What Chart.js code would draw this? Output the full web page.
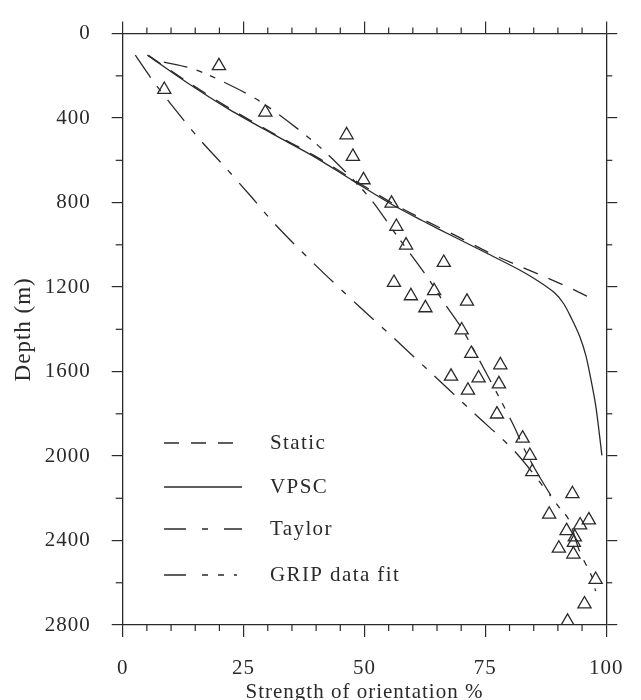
<!DOCTYPE html>
<html><head><meta charset="utf-8">
<script src="https://cdn.jsdelivr.net/npm/chart.js@4/dist/chart.umd.min.js"></script>
<style>html,body{margin:0;padding:0;background:#fff}#wrap{width:641px;height:700px}</style>
</head><body><div id="wrap"><canvas id="c" width="641" height="700"></canvas></div>
<script>
// ---- data ----
const xTicks = [0, 25, 50, 75, 100];
const yTicks = [0, 400, 800, 1200, 1600, 2000, 2400, 2800];
const xMinorStep = 5;
const yMinorStep = 200;
const seriesNames = ['Static', 'VPSC', 'Taylor', 'GRIP data fit'];
const xTitle = 'Strength of orientation %';
const yTitle = 'Depth (m)';

const staticX = [5.3, 13.8, 22.4, 31.2, 39.8, 47.9, 56.0, 62.5, 69.2, 76.0, 82.0, 87.5, 92.5, 97.1];
const staticY = [103, 234, 358, 473, 580, 694, 806, 884, 960, 1040, 1100, 1154, 1204, 1256];

const vpscX = [5.1, 13.5, 22.1, 31.0, 39.4, 47.5, 55.6, 62.0, 68.5, 75.3, 81.9, 85.9, 89.2, 91.2, 92.8, 94.5, 95.8, 96.8, 97.8, 98.5, 99.1];
const vpscY = [102, 235, 360, 475, 580, 695, 808, 886, 962, 1040, 1117, 1171, 1225, 1279, 1348, 1433, 1526, 1634, 1758, 1881, 1997];

const taylorX = [2.6, 6.0, 9.8, 15.5, 21.4, 26.5, 31.4, 39.4, 48.3, 56.0, 63.6, 72.6, 81.2, 88.5];
const taylorY = [102, 215, 329, 490, 638, 770, 900, 1086, 1279, 1440, 1603, 1796, 1981, 2190];

const gripX = [8.5, 14.1, 19.4, 28.4, 39.4, 46.0, 51.3, 56.5, 62.6, 66.6, 70.1, 74.9, 77.6, 80.9, 83.2, 86.5, 89.8, 92.2, 94.5, 97.1, 97.8];
const gripY = [135, 164, 213, 321, 510, 653, 784, 950, 1140, 1279, 1395, 1595, 1711, 1858, 1974, 2110, 2229, 2299, 2452, 2575, 2640];

const obsX = [19.9, 8.6, 29.5, 46.3, 47.6, 49.8, 55.6, 56.6, 58.6, 66.4, 56.1, 59.6, 64.4, 62.6, 71.2, 70.1, 72.1, 78.1, 67.9, 73.6, 77.8, 71.4, 77.4, 82.7, 84.2, 84.7, 93.0, 88.2, 96.4, 94.6, 91.8, 93.5, 93.3, 90.2, 93.2, 97.8, 95.5, 92.0];
const obsY = [153, 265, 373, 480, 582, 693, 804, 914, 1002, 1084, 1179, 1242, 1218, 1299, 1268, 1404, 1515, 1569, 1623, 1631, 1659, 1689, 1802, 1916, 1998, 2075, 2179, 2276, 2303, 2327, 2354, 2384, 2410, 2437, 2465, 2585, 2701, 2783];

// ---- styling ----
const INK = '#2a2a2a';
const pts = (xs, ys) => xs.map((x, i) => ({x: x, y: ys[i]}));
const lineDs = (label, xs, ys, dash) => ({
  label: label, data: pts(xs, ys), showLine: true, pointRadius: 0, pointHoverRadius: 0,
  borderColor: INK, borderWidth: 1.3, borderDash: dash, tension: 0.3, fill: false
});

Chart.defaults.font.family = '"Liberation Serif", "Times New Roman", serif';
Chart.defaults.font.size = 21;
Chart.defaults.color = INK;

const setTicks = (vals) => (s) => { s.ticks = vals.map(v => ({value: v})); };
const plainLabel = (v) => String(v);

const minorTicks = {
  id: 'minorTicks',
  afterDraw(chart) {
    const ctx = chart.ctx;
    const specs = [
      {id: 'x', step: xMinorStep, major: 25, len: 6},
      {id: 'x2', step: xMinorStep, major: 25, len: 6},
      {id: 'y', step: yMinorStep, major: 400, len: 7},
      {id: 'y2', step: yMinorStep, major: 400, len: 6}
    ];
    ctx.save();
    ctx.strokeStyle = INK; ctx.lineWidth = 1.2;
    specs.forEach(sp => {
      const s = chart.scales[sp.id];
      for (let v = s.min; v <= s.max + 1e-9; v += sp.step) {
        if (Math.abs(v / sp.major - Math.round(v / sp.major)) < 1e-9) continue;
        const p = s.getPixelForValue(v);
        ctx.beginPath();
        if (s.position === 'bottom') { ctx.moveTo(p, s.top); ctx.lineTo(p, s.top + sp.len); }
        else if (s.position === 'top') { ctx.moveTo(p, s.bottom); ctx.lineTo(p, s.bottom - sp.len); }
        else if (s.position === 'left') { ctx.moveTo(s.right, p); ctx.lineTo(s.right - sp.len, p); }
        else { ctx.moveTo(s.left, p); ctx.lineTo(s.left + sp.len, p); }
        ctx.stroke();
      }
    });
    ctx.restore();
  }
};

const spacing = {
  id: 'spacing',
  beforeDraw(chart) { chart.ctx.letterSpacing = '1px'; }
};

const paperLegend = {
  id: 'paperLegend',
  afterDatasetsDraw(chart) {
    const ctx = chart.ctx;
    const rowsY = [443, 487, 529, 575];
    const x0 = 164, x1 = 242, tx = 270;
    ctx.save();
    ctx.letterSpacing = '1.4px';
    let r = 0;
    chart.data.datasets.forEach(ds => {
      if (!ds.showLine) return;
      const y = rowsY[r++];
      ctx.strokeStyle = ds.borderColor; ctx.lineWidth = ds.borderWidth;
      ctx.setLineDash(ds.legendDash || ds.borderDash || []);
      ctx.beginPath(); ctx.moveTo(x0, y); ctx.lineTo(x1, y); ctx.stroke();
      ctx.setLineDash([]);
      ctx.fillStyle = INK; ctx.font = '21px "Liberation Serif", serif';
      ctx.textBaseline = 'middle'; ctx.textAlign = 'left';
      ctx.fillText(ds.label, tx, y);
    });
    ctx.restore();
  }
};

const axisCommon = {
  type: 'linear',
  grid: {drawOnChartArea: false, drawTicks: true, color: INK, lineWidth: 1.2},
  border: {display: true, color: INK, width: 1.3}
};

const staticDs = lineDs(seriesNames[0], staticX, staticY, [15, 12]);
const vpscDs = lineDs(seriesNames[1], vpscX, vpscY, []);
const taylorDs = lineDs(seriesNames[2], taylorX, taylorY, [27, 11, 6, 11]);
taylorDs.legendDash = [22, 16, 6, 16];
const gripDs = lineDs(seriesNames[3], gripX, gripY, [24, 10, 6, 8, 6, 10]);
gripDs.legendDash = [22, 16, 6, 10, 6, 10, 3, 100];

new Chart(document.getElementById('c'), {
  type: 'scatter',
  data: {
    datasets: [
      staticDs, vpscDs, taylorDs, gripDs,
      {label: 'GRIP data', data: pts(obsX, obsY), pointStyle: 'triangle', pointRadius: 7.6,
       pointHoverRadius: 7.6, borderColor: INK, borderWidth: 1.3, backgroundColor: 'rgba(0,0,0,0)', showLine: false}
    ]
  },
  options: {
    responsive: false, animation: false, devicePixelRatio: 1,
    layout: {padding: {top: 8.7, right: 5.7, left: 0, bottom: 0}},
    plugins: {legend: {display: false}, tooltip: {enabled: false}},
    scales: {
      x: Object.assign({}, axisCommon, {
        position: 'bottom', min: 0, max: 100, afterBuildTicks: setTicks(xTicks),
        grid: Object.assign({}, axisCommon.grid, {tickLength: 12}),
        ticks: {padding: 19, color: INK, callback: plainLabel},
        title: {display: true, text: xTitle, color: INK, padding: {top: 0, bottom: -5}},
        afterFit(s) { s.height = 75; }
      }),
      x2: Object.assign({}, axisCommon, {
        position: 'top', min: 0, max: 100, afterBuildTicks: setTicks(xTicks),
        grid: Object.assign({}, axisCommon.grid, {tickLength: 12}),
        ticks: {display: false}
      }),
      y: Object.assign({}, axisCommon, {
        position: 'left', min: 0, max: 2800, reverse: true, afterBuildTicks: setTicks(yTicks),
        grid: Object.assign({}, axisCommon.grid, {tickLength: 11}),
        ticks: {padding: 21, color: INK, callback: plainLabel},
        title: {display: true, text: yTitle, color: INK, font: {size: 23}, padding: {top: 10, bottom: 0}},
        afterFit(s) { s.width = 122.7; }
      }),
      y2: Object.assign({}, axisCommon, {
        position: 'right', min: 0, max: 2800, reverse: true, afterBuildTicks: setTicks(yTicks),
        grid: Object.assign({}, axisCommon.grid, {tickLength: 11}),
        ticks: {display: false}
      })
    }
  },
  plugins: [spacing, minorTicks, paperLegend]
});
</script></body></html>
